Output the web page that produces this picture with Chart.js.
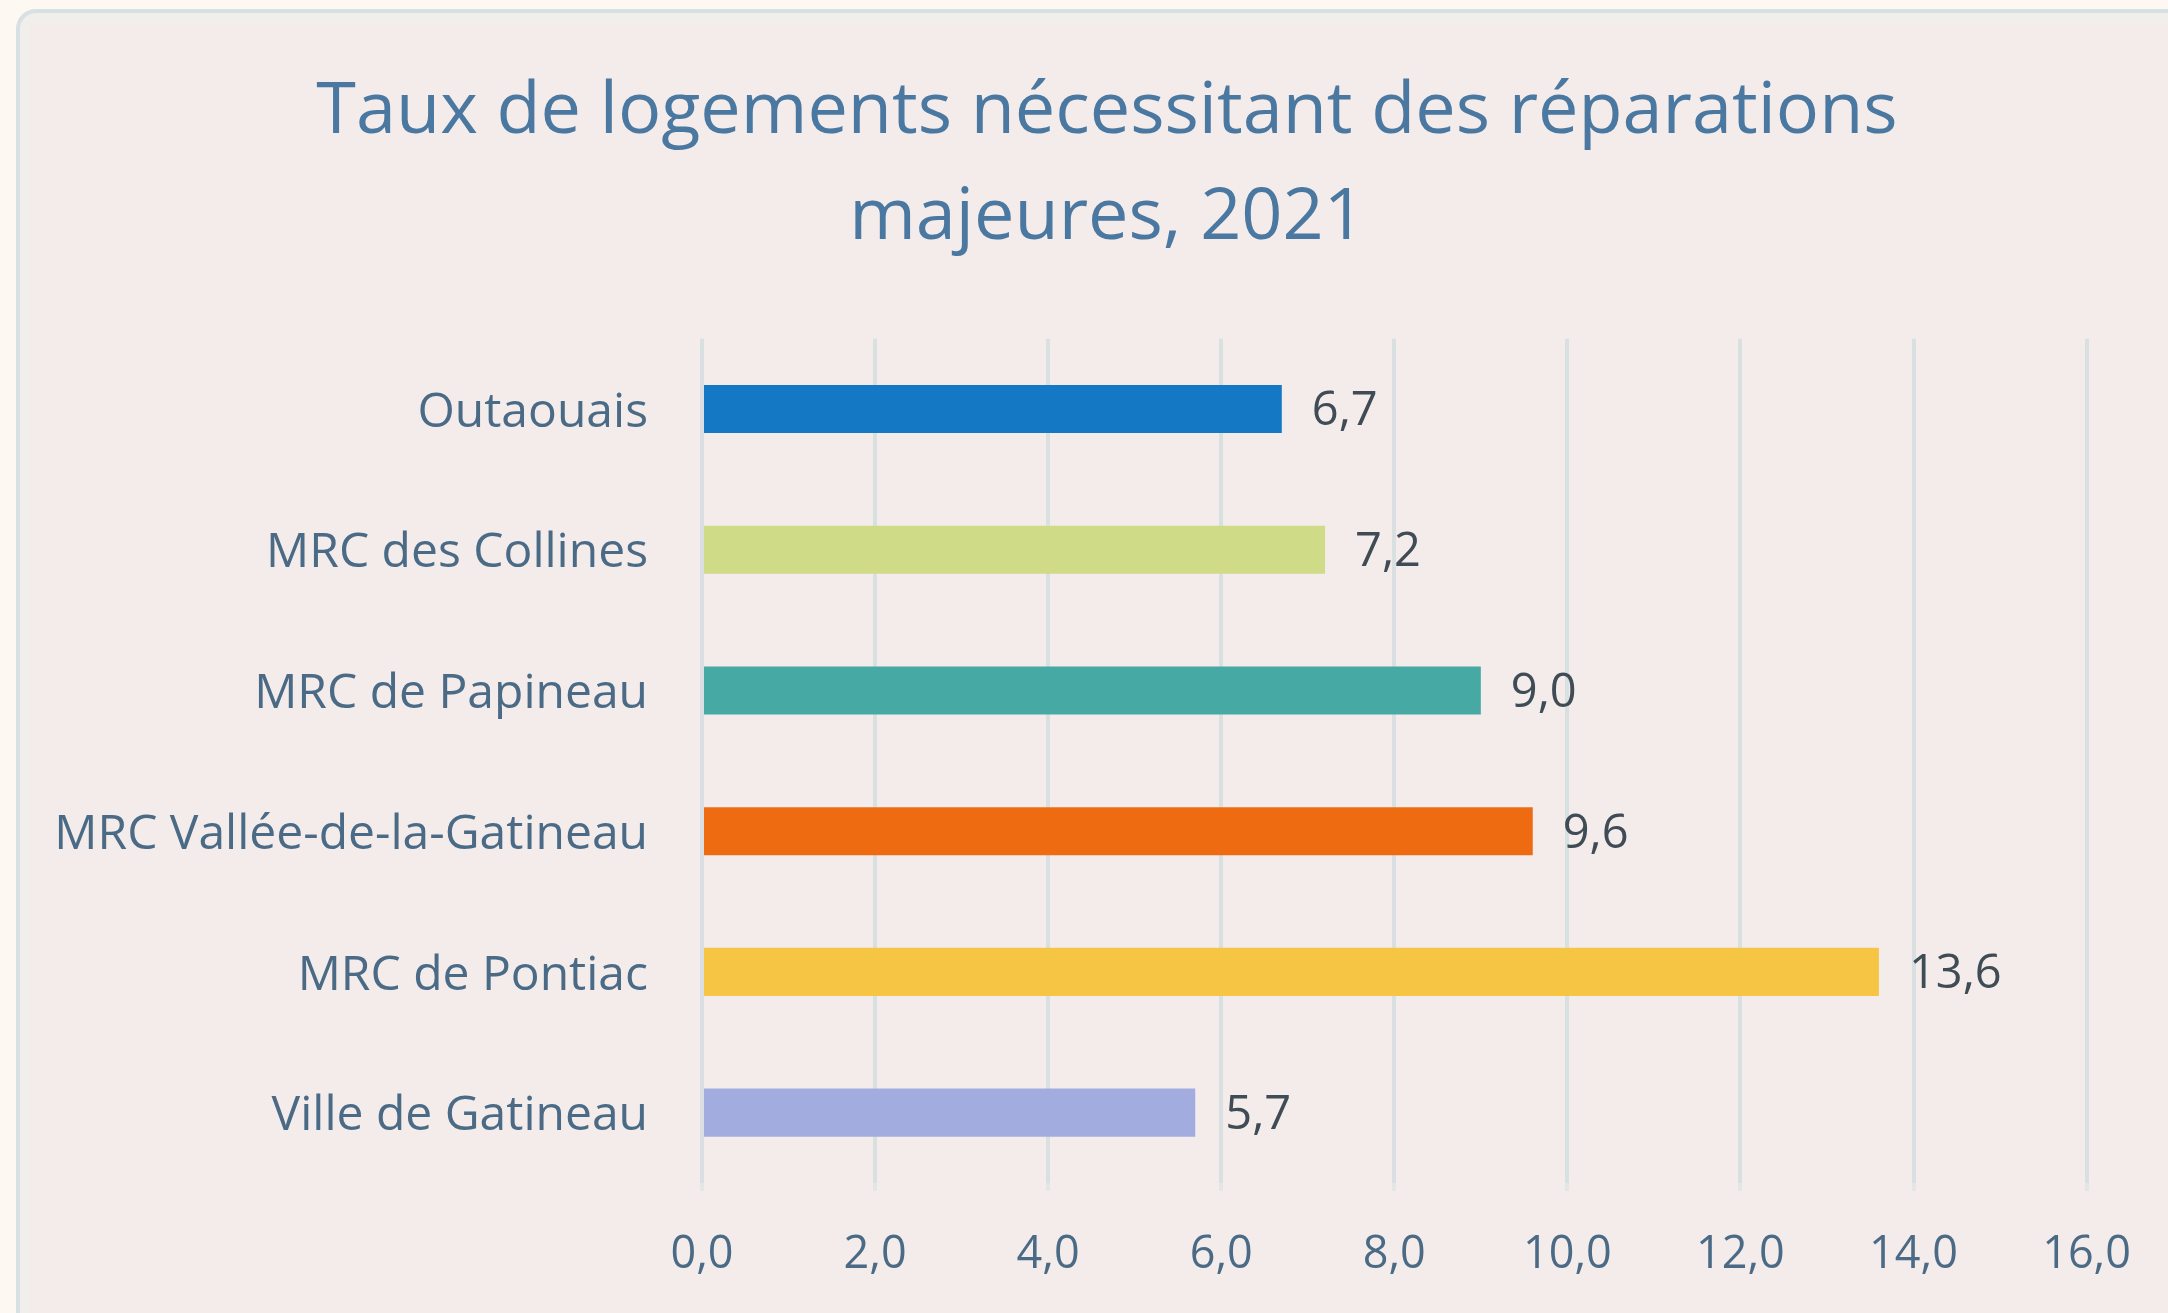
<!DOCTYPE html>
<html>
<head>
<meta charset="utf-8">
<script src="https://cdn.jsdelivr.net/npm/chart.js@4.4.1/dist/chart.umd.min.js"></script>
<style>
  html, body { margin: 0; padding: 0; background: #fdf9f2; overflow: hidden; }
  #card {
    position: absolute; left: 16px; top: 9px; width: 2240px; height: 1400px;
    background: #f3ecea; border: 4px solid #d7e0e2; border-radius: 20px;
    box-shadow: inset 0 0 0 10px #f1efeb;
  }
  #wrap { position: absolute; left: 0; top: 0; width: 2168px; height: 1313px; }
</style>
</head>
<body>
<div id="card"></div>
<div id="wrap"><canvas id="c"></canvas></div>
<script>
const titleLines = ['Taux de logements nécessitant des réparations', 'majeures, 2021'];
const categories = ['Outaouais', 'MRC des Collines', 'MRC de Papineau', 'MRC Vallée-de-la-Gatineau', 'MRC de Pontiac', 'Ville de Gatineau'];
const values = [6.7, 7.2, 9.0, 9.6, 13.6, 5.7];
const barColors = ['#1478c4', '#cfdb86', '#46a9a4', '#ef6b12', '#f7c544', '#a3acdf'];
const xMin = 0, xMax = 16, xStep = 2;

const fmt = v => v.toFixed(1).replace('.', ',');

const valueLabels = {
  id: 'valueLabels',
  afterDatasetsDraw(chart) {
    const ctx = chart.ctx;
    const meta = chart.getDatasetMeta(0);
    ctx.save();
    ctx.font = "47px 'Open Sans'";
    ctx.fillStyle = '#3f4b55';
    ctx.textAlign = 'left';
    ctx.textBaseline = 'middle';
    meta.data.forEach((bar, i) => {
      ctx.fillText(fmt(values[i]), bar.x + 30, bar.y + 3);
    });
    ctx.restore();
  }
};

// centre the title on the card rather than on the plot box
const titleShift = {
  id: 'titleShift',
  afterLayout(chart) {
    const t = chart.titleBlock;
    if (t) { t.left += 63; t.right += 63; }
  }
};

Chart.defaults.font.family = "'Open Sans', sans-serif";

new Chart(document.getElementById('c'), {
  type: 'bar',
  data: {
    labels: categories,
    datasets: [{
      data: values,
      backgroundColor: barColors,
      borderWidth: 0,
      barPercentage: 0.342,
      categoryPercentage: 1.0
    }]
  },
  options: {
    indexAxis: 'y',
    responsive: true,
    maintainAspectRatio: false,
    animation: false,
    layout: { padding: { top: 60, right: 80, bottom: 0, left: 0 } },
    plugins: {
      legend: { display: false },
      tooltip: { enabled: false },
      title: {
        display: true,
        text: titleLines,
        color: '#4b78a0',
        font: { size: 72, weight: 'normal', lineHeight: 1.47 },
        padding: { top: 0, bottom: 67 }
      }
    },
    scales: {
      x: {
        min: xMin, max: xMax,
        ticks: {
          stepSize: xStep,
          color: '#4a6a86',
          font: { size: 45 },
          padding: 37,
          callback: v => fmt(v)
        },
        grid: { color: '#d9e0e1', lineWidth: 4, tickLength: 8, drawTicks: true, tickColor: '#e3e6e4' },
        border: { display: false },
        afterFit: s => { s.height = 130; }
      },
      y: {
        ticks: { color: '#4a6a86', font: { size: 48 }, padding: 54, labelOffset: 4 },
        grid: { display: false, drawTicks: false },
        border: { display: false },
        afterFit: s => { s.width = 702; }
      }
    }
  },
  plugins: [valueLabels, titleShift]
});
</script>
</body>
</html>
